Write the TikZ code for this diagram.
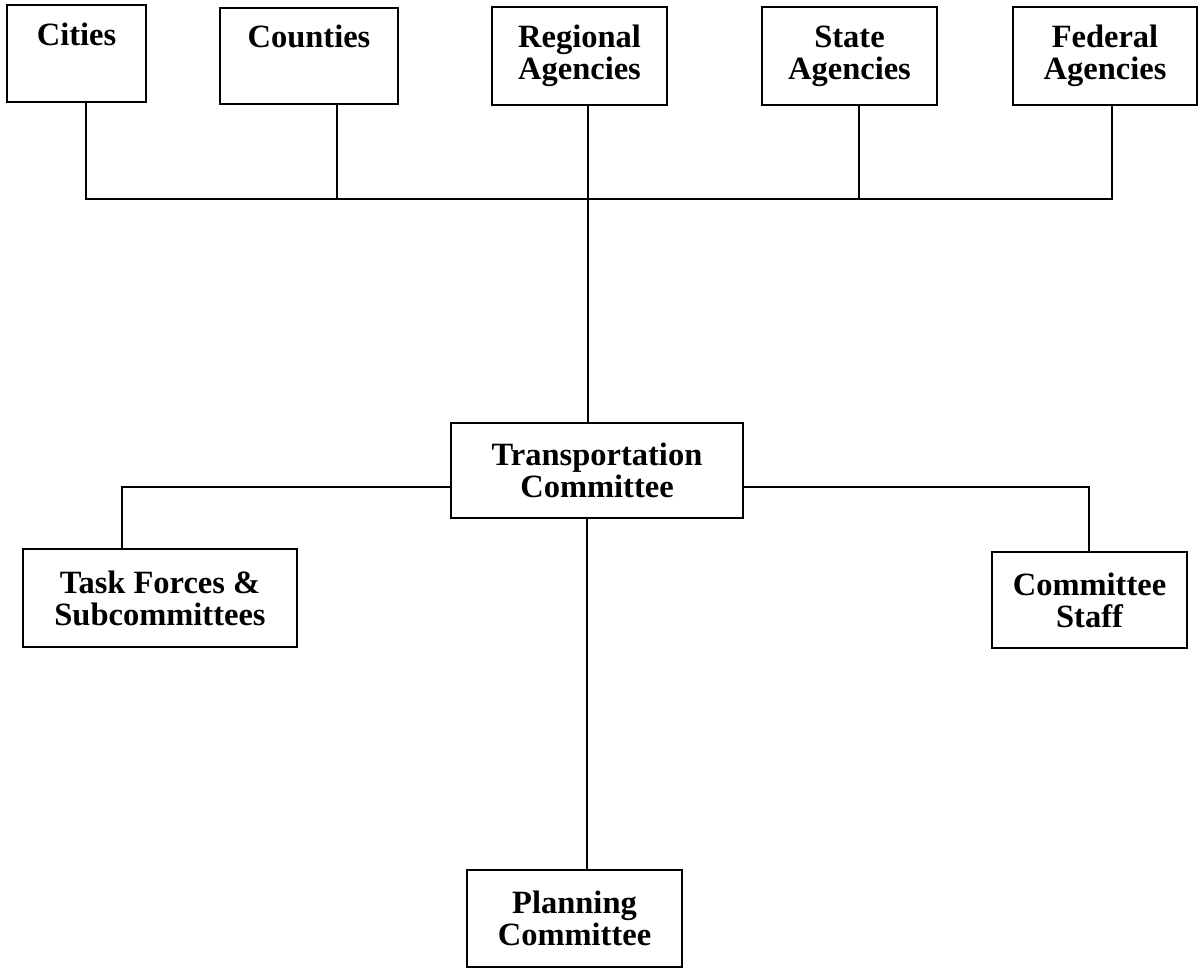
\documentclass[tikz,border=0pt]{standalone}
\usepackage{fontspec}
\setmainfont{Liberation Serif}
\begin{document}
\begin{tikzpicture}[x=1pt,y=-1pt,
  box/.style={draw, line width=2.6pt, rectangle, align=center, inner sep=0pt,
    font=\fontsize{32.5}{32}\selectfont\bfseries,
    execute at begin node={\rule{0pt}{31pt}}},
  conn/.style={line width=2.6pt}]
\useasboundingbox (0,0) rectangle (1199,968);
\fill[white] (0,0) rectangle (1199,968);
% top row
\node[box, minimum width=139pt, minimum height=97pt] (cities) at (76.5,53.5) {Cities\\\phantom{Ag}};
\node[box, minimum width=178pt, minimum height=96pt] (counties) at (309,56) {Counties\\\phantom{Ag}};
\node[box, minimum width=175pt, minimum height=98pt] (regional) at (579.5,56) {Regional\\Agencies};
\node[box, minimum width=175pt, minimum height=98pt] (state) at (849.5,56) {State\\Agencies};
\node[box, minimum width=184pt, minimum height=98pt] (federal) at (1105,56) {Federal\\Agencies};
% middle
\node[box, minimum width=292pt, minimum height=95pt] (trans) at (597,470.5) {Transportation\\Committee};
\node[box, minimum width=274pt, minimum height=98pt] (task) at (160,598) {Task Forces \&\\Subcommittees};
\node[box, minimum width=195pt, minimum height=96pt] (staff) at (1089.5,600) {Committee\\Staff};
\node[box, minimum width=215pt, minimum height=97pt] (plan) at (574.5,918.5) {Planning\\Committee};
% bus coordinates
\coordinate (b1) at (86,199);
\coordinate (b2) at (337,199);
\coordinate (b3) at (588,199);
\coordinate (b4) at (859,199);
\coordinate (b5) at (1112,199);
\coordinate (tl) at (122,487);
\coordinate (tr) at (1089,487);
\coordinate (pc) at (587,700);
% connectors
\draw[conn] (b1 |- cities.south) -- (b1) -- (b5) -- (b5 |- federal.south);
\draw[conn] (b2 |- counties.south) -- (b2);
\draw[conn] (b3 |- regional.south) -- (b3 |- trans.north);
\draw[conn] (b4 |- state.south) -- (b4);
\draw[conn] (trans.west |- tl) -- (tl) -- (tl |- task.north);
\draw[conn] (trans.east |- tr) -- (tr) -- (tr |- staff.north);
\draw[conn] (pc |- trans.south) -- (pc |- plan.north);
\end{tikzpicture}
\end{document}
